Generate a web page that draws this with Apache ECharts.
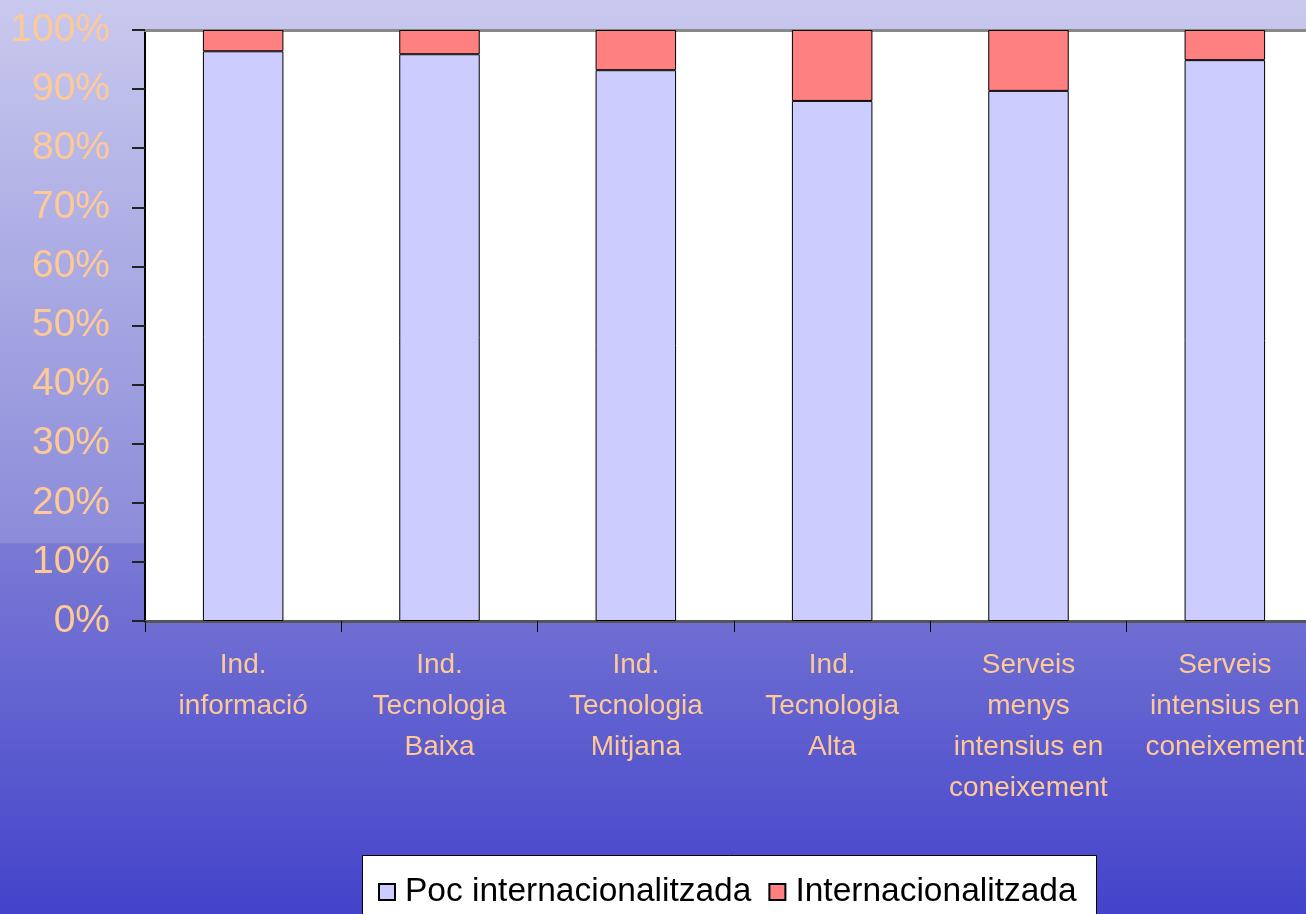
<!DOCTYPE html>
<html>
<head>
<meta charset="utf-8">
<script src="https://cdn.jsdelivr.net/npm/echarts@6/dist/echarts.min.js"></script>
<style>
  html, body { margin: 0; padding: 0; }
  #chart { width: 1306px; height: 914px; }
</style>
</head>
<body>
<div id="chart"></div>
<script>
// categories (x axis)
const categories = [
  'Ind.\ninformació',
  'Ind.\nTecnologia\nBaixa',
  'Ind.\nTecnologia\nMitjana',
  'Ind.\nTecnologia\nAlta',
  'Serveis\nmenys\nintensius en\nconeixement',
  'Serveis\nintensius en\nconeixement'
];
// percent of firms
const pocInternacionalitzada = [96.4, 95.9, 93.2, 88.0, 89.7, 94.9];
const internacionalitzada = [3.6, 4.1, 6.8, 12.0, 10.3, 5.1];
const seriesNames = ['Poc internacionalitzada', 'Internacionalitzada'];

const peach = '#ffc995';
const font = 'Arial, "Liberation Sans", sans-serif';

const chart = echarts.init(document.getElementById('chart'));

const option = {
  animation: false,
  backgroundColor: {
    type: 'linear', x: 0, y: 0, x2: 0, y2: 1,
    colorStops: [
      { offset: 0, color: '#c9c9ee' },
      { offset: 0.594, color: '#8b8bda' },
      { offset: 0.595, color: '#7a7ad5' },
      { offset: 1, color: '#4343cb' }
    ]
  },
  graphic: [
    {
      type: 'rect',
      shape: { x: 362.5, y: 855.5, width: 734, height: 80 },
      style: { fill: '#fff', stroke: '#000', lineWidth: 1 },
      z: 0
    }
  ],
  legend: {
    data: seriesNames,
    left: 373,
    top: 870,
    itemWidth: 16,
    itemHeight: 16,
    itemGap: 17,
    icon: 'rect',
    textStyle: { color: '#000', fontSize: 33.5, fontFamily: font, padding: [0, 0, 0, 5] },
    z: 5
  },
  grid: {
    left: 145,
    top: 30,
    width: 1178,
    height: 591,
    outerBoundsMode: 'none',
    show: true,
    backgroundColor: '#fff',
    borderWidth: 0
  },
  xAxis: [
    {
      type: 'category',
      data: categories,
      axisLine: { lineStyle: { color: '#555', width: 3 } },
      axisTick: { show: true, length: 11, lineStyle: { color: '#000', width: 1 } },
      axisLabel: {
        color: peach,
        fontSize: 28,
        fontFamily: font,
        lineHeight: 41,
        margin: 24,
        interval: 0
      }
    },
    {
      type: 'category',
      position: 'top',
      data: categories,
      axisLine: { show: true, lineStyle: { color: '#888', width: 3 } },
      axisTick: { show: false },
      axisLabel: { show: false }
    }
  ],
  yAxis: {
    type: 'value',
    min: 0,
    max: 100,
    interval: 10,
    axisLine: { show: true, lineStyle: { color: '#000', width: 2 } },
    axisTick: { show: true, length: 13, lineStyle: { color: '#222', width: 2 } },
    splitLine: { show: false },
    axisLabel: {
      color: peach,
      fontSize: 39,
      fontFamily: font,
      margin: 35,
      formatter: '{value}%'
    }
  },
  series: [
    {
      name: seriesNames[0],
      type: 'bar',
      stack: 'total',
      barWidth: '41%',
      data: pocInternacionalitzada,
      itemStyle: { color: '#ccccff', borderColor: '#000', borderWidth: 1 }
    },
    {
      name: seriesNames[1],
      type: 'bar',
      stack: 'total',
      barWidth: '41%',
      data: internacionalitzada,
      itemStyle: { color: '#ff8080', borderColor: '#000', borderWidth: 1 }
    }
  ]
};

chart.setOption(option);
</script>
</body>
</html>
